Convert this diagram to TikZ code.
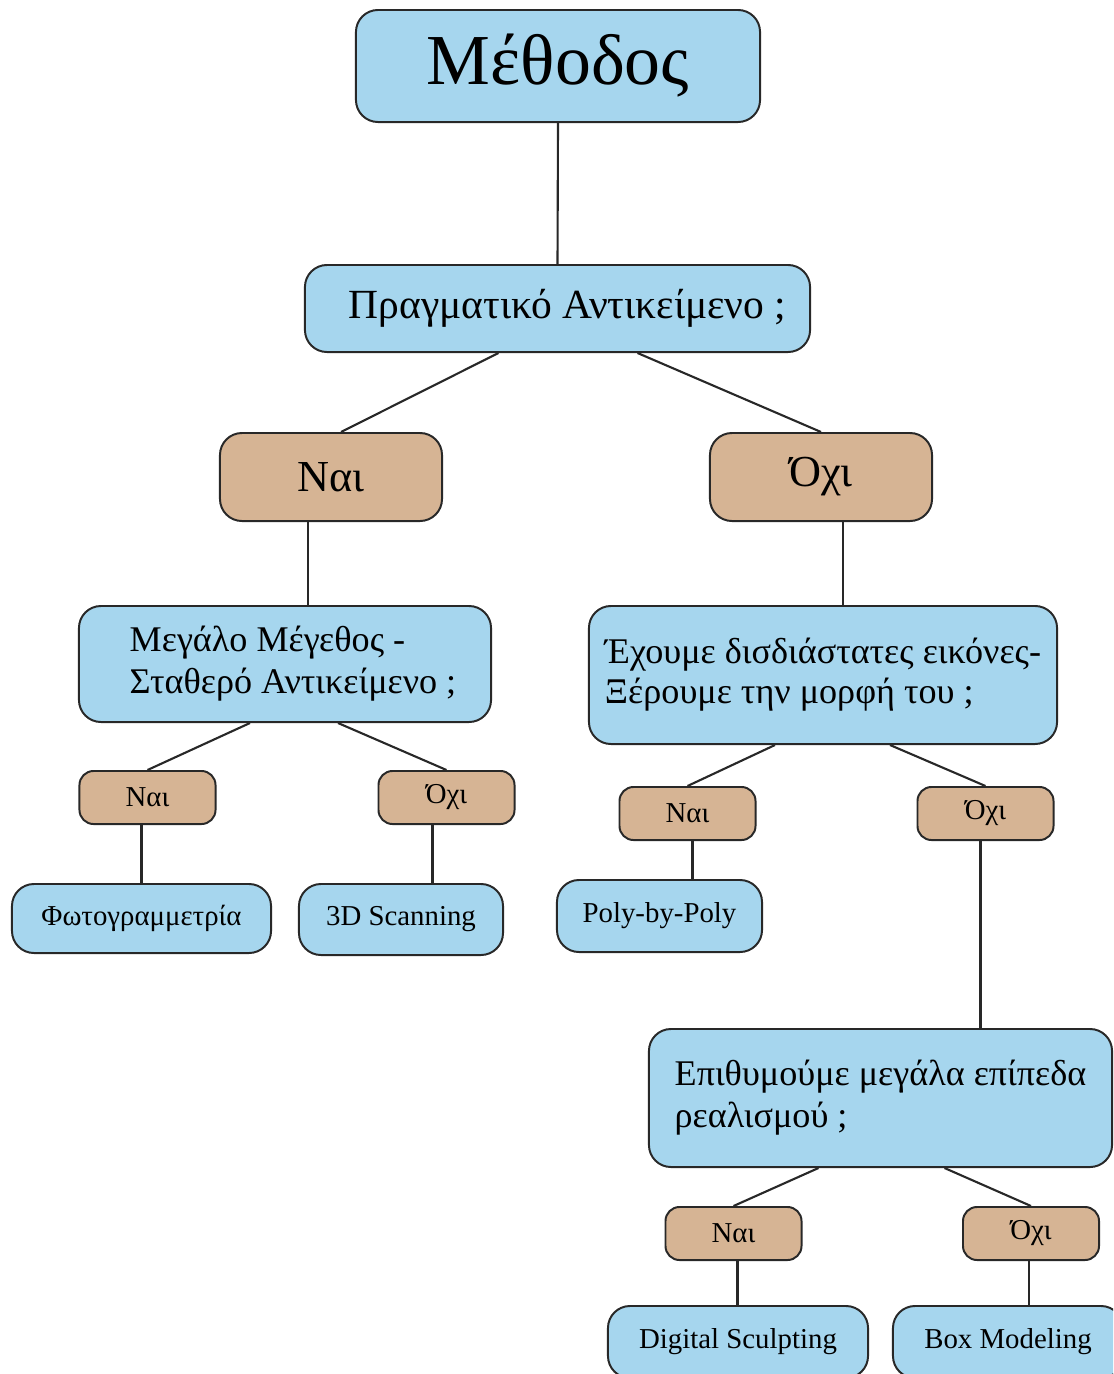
\documentclass[tikz,border=0pt]{standalone}
\usepackage{fontspec}
\setmainfont{Liberation Serif}
\usepackage{tikz}
\usetikzlibrary{calc,positioning}
\definecolor{skyblue}{RGB}{166,214,238}
\definecolor{tanbox}{RGB}{214,180,148}
\definecolor{edgegray}{RGB}{40,40,40}
\tikzset{
    bluebox/.style={draw=edgegray, fill=skyblue, line width=1.4pt, rounded corners=0.55cm, align=left, inner sep=0pt},
    tanbig/.style={draw=edgegray, fill=tanbox, line width=1.4pt, rounded corners=0.55cm, inner sep=0pt,
        minimum width=5.55cm, minimum height=2.2cm, font=\fontsize{31.5}{36}\selectfont},
    tansmall/.style={draw=edgegray, fill=tanbox, line width=1.4pt, rounded corners=0.35cm, inner sep=0pt,
        minimum width=3.4cm, minimum height=1.325cm, font=\fontsize{20.5}{24}\selectfont},
    leaf/.style={bluebox, minimum height=1.75cm, font=\fontsize{20.5}{24}\selectfont},
    question/.style={bluebox, font=\fontsize{25.7}{30}\selectfont},
    link/.style={draw=edgegray, line width=1.5pt}
}

\begin{document}
\begin{tikzpicture}[x=0.025cm, y=-0.025cm]
    \clip (0,0) rectangle (1113,1374);

    % Top of the tree
    \node[bluebox, minimum width=10.1cm, minimum height=2.8cm, font=\fontsize{51}{60}\selectfont] (meth) at (558,66) {Μέθοδος};
    \node[bluebox, minimum width=12.625cm, minimum height=2.175cm, font=\fontsize{29.5}{32}\selectfont] (prag) at (557.5,308.5) {\hspace*{0.5cm}Πραγματικό Αντικείμενο ;};
    \node[tanbig] (naiA) at (331,477) {Ναι};
    \node[tanbig] (oxiA) at (821,477) {Όχι};

    % Left branch
    \node[question, minimum width=10.3cm, minimum height=2.9cm] (megalo) at (285,664) {\hspace*{0.4cm}Μεγάλο Μέγεθος -\\\hspace*{0.4cm}Σταθερό Αντικείμενο ;};
    \node[tansmall] (naiB) at (147.5,797.5) {Ναι};
    \node[tansmall] (oxiB) at (446.5,797.5) {Όχι};
    \node[leaf, minimum width=6.475cm, minimum height=1.725cm] (foto) at (141.5,918.5) {Φωτογραμμετρία};
    \node[leaf, minimum width=5.1cm, minimum height=1.775cm] (scan) at (401,919.5) {3D Scanning};

    % Right branch
    \node[question, minimum width=11.7cm, minimum height=3.45cm, font=\fontsize{25.7}{28.5}\selectfont] (exoume) at (823,675) {Έχουμε δισδιάστατες εικόνες-\\Ξέρουμε την μορφή του ;};
    \node[tansmall] (naiC) at (687.5,813.5) {Ναι};
    \node[tansmall] (oxiC) at (985.5,813.5) {Όχι};
    \node[leaf, minimum width=5.125cm, minimum height=1.8cm] (poly) at (659.5,916) {Poly-by-Poly};
    \node[question, minimum width=11.575cm, minimum height=3.45cm] (epith) at (880.5,1098) {Επιθυμούμε μεγάλα επίπεδα\\ρεαλισμού ;};
    \node[tansmall] (naiD) at (733.5,1233.5) {Ναι};
    \node[tansmall] (oxiD) at (1031,1233.5) {Όχι};
    \node[leaf, minimum width=6.5cm, minimum height=1.8cm] (digital) at (738,1342) {Digital Sculpting};
    \node[leaf, minimum width=5.75cm, minimum height=1.8cm] (boxmod) at (1008,1342) {Box Modeling};

    % Connectors
    \draw[link] (meth.south) -- (prag.north);
    \draw[link] ([xshift=-1.475cm]prag.south) -- ([xshift=0.25cm]naiA.north);
    \draw[link] ([xshift=2cm]prag.south) -- (oxiA.north);
    \draw[link] ([xshift=-0.575cm]naiA.south) coordinate (t1) -- (t1 |- megalo.north);
    \draw[link] ([xshift=0.55cm]oxiA.south) coordinate (t2) -- (t2 |- exoume.north);

    \draw[link] ([xshift=-0.875cm]megalo.south) -- (naiB.north);
    \draw[link] ([xshift=1.325cm]megalo.south) -- (oxiB.north);
    \draw[link] (foto.north) -- (foto.north |- naiB.south);
    \draw[link] ([xshift=-0.35cm]oxiB.south) coordinate (t3) -- (t3 |- scan.north);

    \draw[link] ([xshift=-1.2cm]exoume.south) -- (naiC.north);
    \draw[link] ([xshift=1.675cm]exoume.south) -- (oxiC.north);
    \draw[link] ([xshift=0.125cm]naiC.south) coordinate (t4) -- (t4 |- poly.north);
    \draw[link] ([xshift=-0.125cm]oxiC.south) coordinate (t5) -- (t5 |- epith.north);

    \draw[link] ([xshift=-1.55cm]epith.south) -- (naiD.north);
    \draw[link] ([xshift=1.6cm]epith.south) -- (oxiD.north);
    \draw[link] ([xshift=0.1cm]naiD.south) coordinate (t6) -- (t6 |- digital.north);
    \draw[link] ([xshift=-0.05cm]oxiD.south) coordinate (t7) -- (t7 |- boxmod.north);
\end{tikzpicture}
\end{document}
